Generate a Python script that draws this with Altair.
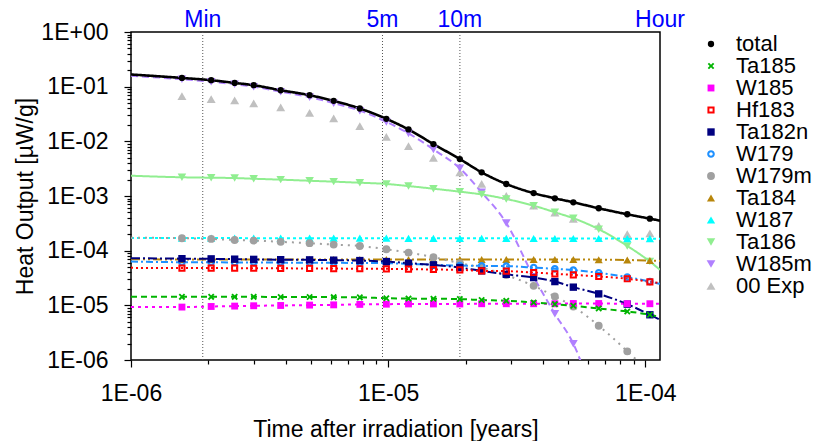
import altair as alt
import pandas as pd
import numpy as np

# ---------------- data ----------------
YEAR_S = 365.25 * 24 * 3600
T_MIN = 60 / YEAR_S
T_5M = 300 / YEAR_S
T_10M = 600 / YEAR_S
T_HOUR = 3600 / YEAR_S
T_START = 1e-6

marker_times = [1.578e-6, 2.05e-6, 2.53e-6, 3.0e-6, 3.82e-6, 4.95e-6, 6.14e-6, 7.76e-6,
                9.84e-6, 1.20e-5, 1.50e-5, 1.90e-5, 2.31e-5, 2.88e-5, 3.68e-5, 4.45e-5,
                5.25e-5, 6.59e-5, 8.51e-5, 1.042e-4]
line_times = [T_START] + marker_times + [T_HOUR]

series_names = ["total", "Ta185", "W185", "Hf183", "Ta182n", "W179", "W179m",
                "Ta184", "W187", "Ta186", "W185m", "00 Exp"]

# values: [start, 20 marker points, end]
total = [0.167, 0.1445, 0.1313, 0.1172, 0.1064, 0.0861, 0.0698, 0.0550, 0.0399, 0.0258,
         0.0165, 0.00891, 0.00474, 0.00271, 0.00166, 0.00113, 9.08e-4, 7.67e-4, 5.96e-4,
         4.63e-4, 3.85e-4, 3.54e-4]
ta185 = [1.44e-5, 1.43e-5, 1.43e-5, 1.43e-5, 1.43e-5, 1.42e-5, 1.42e-5, 1.41e-5, 1.40e-5,
         1.35e-5, 1.33e-5, 1.32e-5, 1.30e-5, 1.25e-5, 1.21e-5, 1.13e-5, 1.05e-5, 9.82e-6,
         8.77e-6, 7.73e-6, 6.72e-6, 6.10e-6]
w185 = [9.29e-6, 9.29e-6, 9.53e-6, 9.68e-6, 9.82e-6, 9.94e-6, 1.01e-5, 1.02e-5, 1.04e-5,
        1.05e-5, 1.06e-5, 1.06e-5, 1.06e-5, 1.07e-5, 1.07e-5, 1.07e-5, 1.07e-5, 1.08e-5,
        1.08e-5, 1.07e-5, 1.07e-5, 1.07e-5]
hf183 = [4.85e-5, 4.80e-5, 4.80e-5, 4.78e-5, 4.77e-5, 4.75e-5, 4.73e-5, 4.70e-5, 4.68e-5,
         4.65e-5, 4.59e-5, 4.52e-5, 4.46e-5, 4.27e-5, 4.22e-5, 3.98e-5, 3.77e-5, 3.61e-5,
         3.37e-5, 3.06e-5, 2.69e-5, 2.55e-5]
ta182n = [7.29e-5, 7.14e-5, 7.08e-5, 6.99e-5, 6.93e-5, 6.84e-5, 6.79e-5, 6.70e-5, 6.59e-5,
          6.32e-5, 5.91e-5, 5.50e-5, 4.91e-5, 4.27e-5, 3.69e-5, 3.22e-5, 2.72e-5, 2.15e-5,
          1.62e-5, 1.05e-5, 6.72e-6, 5.45e-6]
w179 = [6.32e-5, 6.15e-5, 6.12e-5, 6.10e-5, 6.08e-5, 6.05e-5, 6.02e-5, 6.00e-5, 5.95e-5,
        5.91e-5, 5.74e-5, 5.50e-5, 5.34e-5, 5.27e-5, 5.21e-5, 4.91e-5, 4.65e-5, 4.40e-5,
        3.93e-5, 3.28e-5, 2.72e-5, 2.47e-5]
w179m = [1.73e-4, 1.69e-4, 1.64e-4, 1.57e-4, 1.53e-4, 1.45e-4, 1.37e-4, 1.29e-4, 1.22e-4,
         1.06e-4, 9.22e-5, 7.6e-5, 5.9e-5, 4.91e-5, 3.57e-5, 2.27e-5, 1.45e-5, 9.5e-6,
         4.23e-6, 1.44e-6, 5.5e-7, 3.0e-7]
ta184 = [7.0e-5, 6.9e-5, 6.9e-5, 6.9e-5, 6.9e-5, 6.9e-5, 6.9e-5, 6.9e-5, 6.9e-5,
         6.9e-5, 6.9e-5, 6.9e-5, 6.9e-5, 6.9e-5, 6.9e-5, 6.9e-5, 6.9e-5, 6.88e-5,
         6.85e-5, 6.75e-5, 6.6e-5, 6.5e-5]
w187 = [1.70e-4, 1.70e-4, 1.70e-4, 1.70e-4, 1.69e-4, 1.69e-4, 1.69e-4, 1.69e-4, 1.69e-4,
        1.69e-4, 1.68e-4, 1.68e-4, 1.68e-4, 1.68e-4, 1.68e-4, 1.67e-4, 1.67e-4, 1.67e-4,
        1.67e-4, 1.66e-4, 1.66e-4, 1.66e-4]
ta186 = [2.35e-3, 2.20e-3, 2.16e-3, 2.13e-3, 2.07e-3, 1.99e-3, 1.90e-3, 1.83e-3, 1.75e-3,
         1.66e-3, 1.52e-3, 1.36e-3, 1.20e-3, 1.07e-3, 8.82e-4, 6.65e-4, 5.04e-4, 3.92e-4,
         2.47e-4, 1.22e-4, 6.32e-5, 4.46e-5]
w185m = [0.1585, 0.1368, 0.1233, 0.111, 0.100, 0.0810, 0.0643, 0.0499, 0.0364, 0.0227,
         0.01397, 0.00713, 0.00321, 0.00117, 3.21e-4, 3.32e-5, 7.0e-6, 1.99e-6, 1.0e-7,
         None, None, None]
exp00 = [0.0670, 0.0591, 0.0559, 0.0493, 0.0417, 0.0332, 0.0262, 0.0190, 0.0121, 0.00819,
         0.00500, 0.00271, 0.00166, 0.00101, 6.65e-4, 4.96e-4, 3.80e-4, 2.83e-4, 2.00e-4,
         2.08e-4]

calc_series = {"total": total, "Ta185": ta185, "W185": w185, "Hf183": hf183,
               "Ta182n": ta182n, "W179": w179, "W179m": w179m, "Ta184": ta184,
               "W187": w187, "Ta186": ta186, "W185m": w185m}

mark_labels = ["Min", "5m", "10m", "Hour"]
mark_times = [T_MIN, T_5M, T_10M, T_HOUR]

# ---------------- styles ----------------
colors = ["#000000", "#00b400", "#ff00ff", "#ff0000", "#000080", "#1e90ff", "#a0a0a0",
          "#b8860b", "#00ffff", "#90ee90", "#b080ff", "#c0c0c0"]
X_PATH = "M-1,-0.6L-0.6,-1L0,-0.4L0.6,-1L1,-0.6L0.4,0L1,0.6L0.6,1L0,0.4L-0.6,1L-1,0.6L-0.4,0Z"
OPEN_SQ = "M-1,-1H1V1H-1Z M-0.45,-0.45V0.45H0.45V-0.45Z"
RING = ("M-1,0A1,1 0 1,0 1,0A1,1 0 1,0 -1,0Z "
        "M-0.45,0A0.45,0.45 0 1,1 0.45,0A0.45,0.45 0 1,1 -0.45,0Z")
shapes = ["circle", X_PATH, "square", OPEN_SQ, "square", RING, "circle",
          "triangle-up", "triangle-up", "triangle-down", "triangle-down", "triangle-up"]
sizes = [40, 80, 80, 100, 70, 110, 70, 260, 60, 210, 60, 150]
dashes = {"total": [1, 0], "Ta185": [6, 4], "W185": [3, 4], "Hf183": [2, 3],
          "Ta182n": [9, 3, 2, 3], "W179": [7, 3, 2, 3], "W179m": [2, 5],
          "Ta184": [9, 3, 2, 3, 2, 3], "W187": [3, 3], "Ta186": [1, 0], "W185m": [7, 4]}
color_of = dict(zip(series_names, colors))

FONT = "Liberation Sans"

# ---------------- tables ----------------
rows = []
for name, vals in calc_series.items():
    for i, (t, v) in enumerate(zip(line_times, vals)):
        if v is None:
            continue
        rows.append({"series": name, "t": t, "v": v,
                     "marker": 0 < i < len(line_times) - 1})
for t, v in zip(marker_times, exp00):
    rows.append({"series": "00 Exp", "t": t, "v": v, "marker": True})
df = pd.DataFrame(rows)

pts = df[df["marker"]].copy()
order = {n: i for i, n in enumerate(series_names)}
pts["ord"] = pts["series"].map(order)
pts = pts.sort_values("ord", ascending=False)

# ---------------- axes ----------------
x_major = [1e-6, 1e-5, 1e-4]
x_minor = [k * 10.0 ** e for e in range(-6, -3) for k in range(2, 10)]
x_minor = [t for t in x_minor if t <= T_HOUR * 1.0001]
y_major = [10.0 ** e for e in range(-6, 1)]
y_minor = [k * 10.0 ** e for e in range(-6, 0) for k in range(2, 10)]

E = "round(log(datum.value)/LN10)"
LABEL = f"'1E' + ({E} < 0 ? '-' : '+') + (abs({E}) < 10 ? '0' : '') + abs({E})"

x_scale = alt.Scale(type="log", domain=[T_START, T_HOUR], nice=False)
y_scale = alt.Scale(type="log", domain=[1e-6, 1.0], nice=False)

common = dict(grid=False, domain=False, tickColor="black", tickWidth=1.2,
              labelFlush=False, labelBound=False, labelOverlap=False)

x_axis = alt.Axis(values=x_major, labelExpr=LABEL, orient="bottom", tickSize=7,
                  labelFont=FONT, labelFontSize=23, labelColor="black", labelPadding=15,
                  title="Time after irradiation [years]", titleFont=FONT, titleFontSize=23,
                  titleFontWeight="normal", titleColor="black",
                  titleBaseline="alphabetic", titleY=76, **common)
y_axis = alt.Axis(values=y_major, labelExpr=LABEL, orient="left", tickSize=7,
                  labelFont=FONT, labelFontSize=23, labelColor="black", labelPadding=16,
                  title="Heat Output [µW/g]", titleFont=FONT, titleFontSize=23,
                  titleFontWeight="normal", titleColor="black",
                  titleBaseline="alphabetic", titleX=-99, titleY=164, titleAngle=270,
                  **common)
x_axis_minor = alt.Axis(values=x_minor, orient="bottom", tickSize=4, labels=False,
                        title=None, **common)
y_axis_minor = alt.Axis(values=y_minor, orient="left", tickSize=4, labels=False,
                        title=None, **common)

X = alt.X("t:Q", scale=x_scale, axis=None)
Y = alt.Y("v:Q", scale=y_scale, axis=None)

# ---------------- layers ----------------
minor_ticks = alt.Chart(df).mark_point(opacity=0, size=1).encode(
    x=alt.X("t:Q", scale=x_scale, axis=x_axis_minor),
    y=alt.Y("v:Q", scale=y_scale, axis=y_axis_minor),
)

rules = alt.Chart(pd.DataFrame({"t": mark_times[:3]})).mark_rule(
    color="#555555", strokeDash=[1, 2], strokeWidth=1
).encode(x=alt.X("t:Q", scale=x_scale, axis=None))

top_labels = alt.Chart(pd.DataFrame({"t": mark_times, "lab": mark_labels})).mark_text(
    color="#0000ff", font=FONT, fontSize=23, align="center", baseline="alphabetic"
).encode(x=alt.X("t:Q", scale=x_scale, axis=None), y=alt.value(-5), text="lab:N")

line_layers = []
for name in reversed(list(calc_series.keys())):
    sub = df[df["series"] == name]
    line_layers.append(
        alt.Chart(sub).mark_line(
            color=color_of[name], strokeDash=dashes[name],
            strokeWidth=2.6 if name == "total" else 2.0,
            interpolate="monotone", clip=True
        ).encode(x=X, y=Y)
    )

leg = alt.Legend(title=None, orient="none", legendX=569, legendY=1, labelFont=FONT,
                 labelFontSize=22, labelColor="black", rowPadding=0, labelOffset=14,
                 padding=0, symbolStrokeWidth=0, symbolOpacity=1)

points = alt.Chart(pts).mark_point(filled=True, opacity=1, strokeWidth=0, clip=True).encode(
    x=alt.X("t:Q", scale=x_scale, axis=x_axis),
    y=alt.Y("v:Q", scale=y_scale, axis=y_axis),
    color=alt.Color("series:N", scale=alt.Scale(domain=series_names, range=colors), legend=leg),
    shape=alt.Shape("series:N", scale=alt.Scale(domain=series_names, range=shapes), legend=leg),
    size=alt.Size("series:N", scale=alt.Scale(domain=series_names, range=sizes), legend=leg),
    order=alt.Order("ord:Q", sort="descending"),
)

chart = alt.layer(minor_ticks, rules, *line_layers, points, top_labels).resolve_axis(
    x="independent", y="independent"
).properties(
    width=529, height=328,
    autosize=alt.AutoSizeParams(type="none"),
    padding={"left": 131, "top": 32, "right": 154, "bottom": 81},
    background="white",
).configure_view(stroke="black", strokeWidth=1.5)

chart.save("out.html", embed_options={"renderer": "svg", "actions": False})
